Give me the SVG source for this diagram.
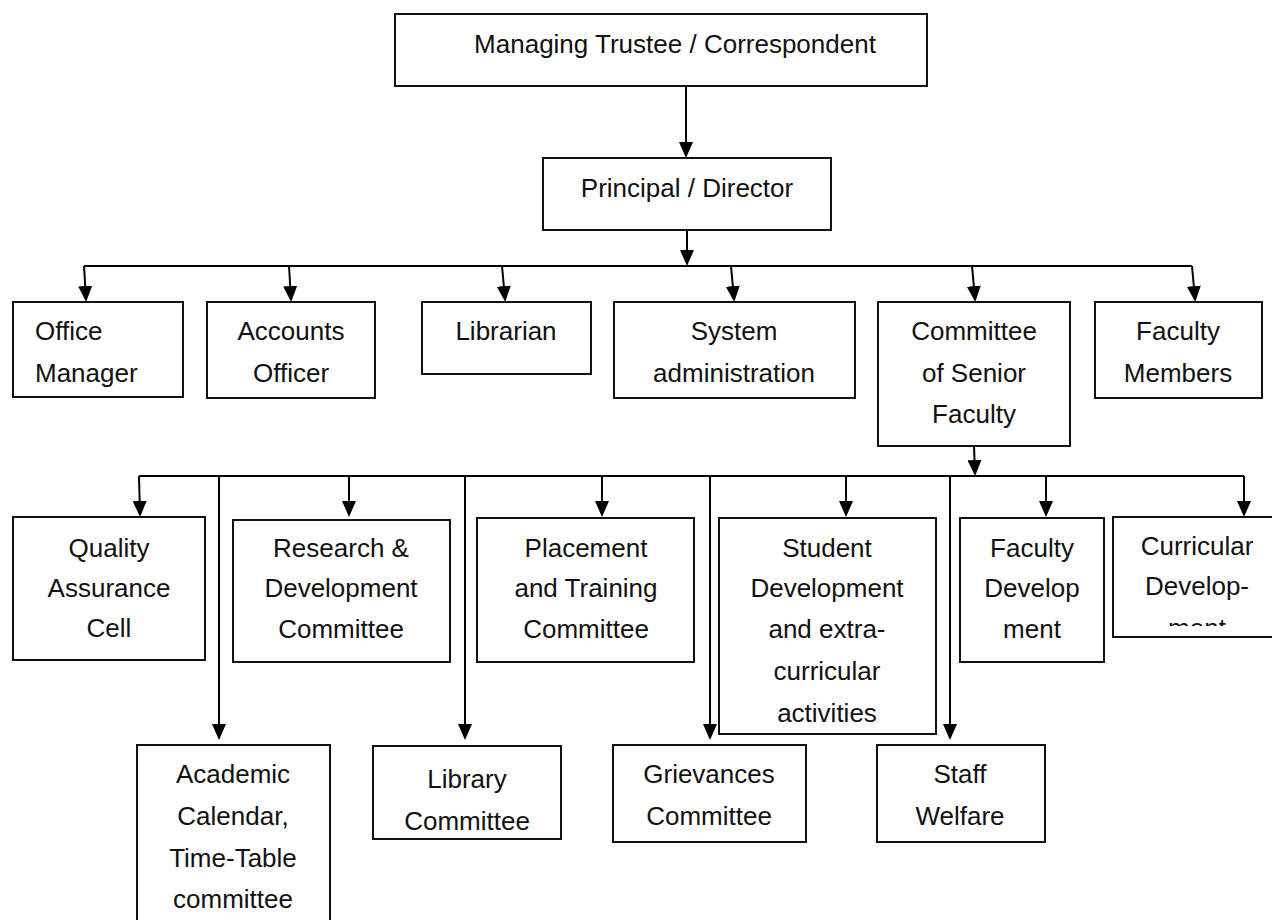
<svg xmlns="http://www.w3.org/2000/svg" width="1272" height="920" viewBox="0 0 1272 920">
<style>
.box{fill:#fff;stroke:#111;stroke-width:2}
.t{font-family:"Liberation Sans",Arial,sans-serif;font-size:26px;fill:#111;text-anchor:middle}
.l{text-anchor:start}
.c{fill:none;stroke:#000;stroke-width:2}
.a{marker-end:url(#ah)}
</style>
<defs>
<marker id="ah" viewBox="0 0 16 14" refX="13" refY="7" markerWidth="16" markerHeight="14" markerUnits="userSpaceOnUse" orient="auto">
<path d="M0,0 L16,7 L0,14 z" fill="#000"/>
</marker>
<clipPath id="clipCur"><rect x="1113" y="517" width="170" height="109"/></clipPath>
</defs>
<rect width="1272" height="920" fill="#fff"/>

<g id="connectors">
<line class="c a" x1="686" y1="86" x2="686" y2="155"/>
<line class="c a" x1="687" y1="230" x2="687" y2="263"/>
<line class="c" x1="84" y1="266" x2="1192" y2="266"/>
<line class="c a" x1="84" y1="266" x2="86" y2="299"/>
<line class="c a" x1="289" y1="266" x2="291" y2="299"/>
<line class="c a" x1="502" y1="266" x2="505" y2="299"/>
<line class="c a" x1="731" y1="266" x2="734" y2="299"/>
<line class="c a" x1="972" y1="266" x2="975" y2="299"/>
<line class="c a" x1="1192" y1="266" x2="1195" y2="299"/>
<line class="c a" x1="974" y1="446" x2="975" y2="473"/>
<line class="c" x1="139" y1="476" x2="1244" y2="476"/>
<line class="c a" x1="139" y1="476" x2="140" y2="514"/>
<line class="c a" x1="349" y1="476" x2="349" y2="514"/>
<line class="c a" x1="602" y1="476" x2="602" y2="514"/>
<line class="c a" x1="846" y1="476" x2="846" y2="514"/>
<line class="c a" x1="1046" y1="476" x2="1046" y2="514"/>
<line class="c a" x1="1244" y1="476" x2="1244" y2="514"/>
<line class="c a" x1="219" y1="476" x2="219" y2="737"/>
<line class="c a" x1="465" y1="476" x2="465" y2="737"/>
<line class="c a" x1="710" y1="476" x2="710" y2="737"/>
<line class="c a" x1="950" y1="476" x2="950" y2="737"/>
</g>

<g id="trustee"><rect class="box" x="395" y="14" width="532" height="72"/><text class="t" x="675" y="53">Managing Trustee / Correspondent</text></g>
<g id="principal"><rect class="box" x="543" y="158" width="288" height="72"/><text class="t" x="687" y="197">Principal / Director</text></g>

<g id="office"><rect class="box" x="13" y="302" width="170" height="95"/><text class="t l" x="35" y="340">Office</text><text class="t l" x="35" y="382">Manager</text></g>
<g id="accounts"><rect class="box" x="207" y="302" width="168" height="96"/><text class="t" x="291" y="340">Accounts</text><text class="t" x="291" y="382">Officer</text></g>
<g id="librarian"><rect class="box" x="422" y="302" width="169" height="72"/><text class="t" x="506" y="340">Librarian</text></g>
<g id="sysadmin"><rect class="box" x="614" y="302" width="241" height="96"/><text class="t" x="734" y="340">System</text><text class="t" x="734" y="382">administration</text></g>
<g id="committee"><rect class="box" x="878" y="302" width="192" height="144"/><text class="t" x="974" y="340">Committee</text><text class="t" x="974" y="382">of Senior</text><text class="t" x="974" y="423">Faculty</text></g>
<g id="facultymembers"><rect class="box" x="1095" y="302" width="167" height="96"/><text class="t" x="1178" y="340">Faculty</text><text class="t" x="1178" y="382">Members</text></g>

<g id="quality"><rect class="box" x="13" y="517" width="192" height="143"/><text class="t" x="109" y="557">Quality</text><text class="t" x="109" y="597">Assurance</text><text class="t" x="109" y="637">Cell</text></g>
<g id="research"><rect class="box" x="233" y="520" width="217" height="142"/><text class="t" x="341" y="557">Research &amp;</text><text class="t" x="341" y="597">Development</text><text class="t" x="341" y="638">Committee</text></g>
<g id="placement"><rect class="box" x="477" y="518" width="217" height="144"/><text class="t" x="586" y="557">Placement</text><text class="t" x="586" y="597">and Training</text><text class="t" x="586" y="638">Committee</text></g>
<g id="student"><rect class="box" x="719" y="518" width="217" height="216"/><text class="t" x="827" y="557">Student</text><text class="t" x="827" y="597">Development</text><text class="t" x="827" y="638">and extra-</text><text class="t" x="827" y="680">curricular</text><text class="t" x="827" y="722">activities</text></g>
<g id="facultydev"><rect class="box" x="960" y="518" width="144" height="144"/><text class="t" x="1032" y="557">Faculty</text><text class="t" x="1032" y="597">Develop</text><text class="t" x="1032" y="638">ment</text></g>
<g id="curricular"><rect class="box" x="1113" y="517" width="180" height="120"/><g clip-path="url(#clipCur)"><text class="t" x="1197" y="555">Curricular</text><text class="t" x="1197" y="595">Develop-</text><text class="t" x="1197" y="637">ment</text></g></g>

<g id="academic"><rect class="box" x="137" y="745" width="193" height="200"/><text class="t" x="233" y="783">Academic</text><text class="t" x="233" y="825">Calendar,</text><text class="t" x="233" y="867">Time-Table</text><text class="t" x="233" y="908">committee</text></g>
<g id="library"><rect class="box" x="373" y="746" width="188" height="93"/><text class="t" x="467" y="788">Library</text><text class="t" x="467" y="830">Committee</text></g>
<g id="grievances"><rect class="box" x="613" y="745" width="193" height="97"/><text class="t" x="709" y="783">Grievances</text><text class="t" x="709" y="825">Committee</text></g>
<g id="staff"><rect class="box" x="877" y="745" width="168" height="97"/><text class="t" x="960" y="783">Staff</text><text class="t" x="960" y="825">Welfare</text></g>
</svg>
